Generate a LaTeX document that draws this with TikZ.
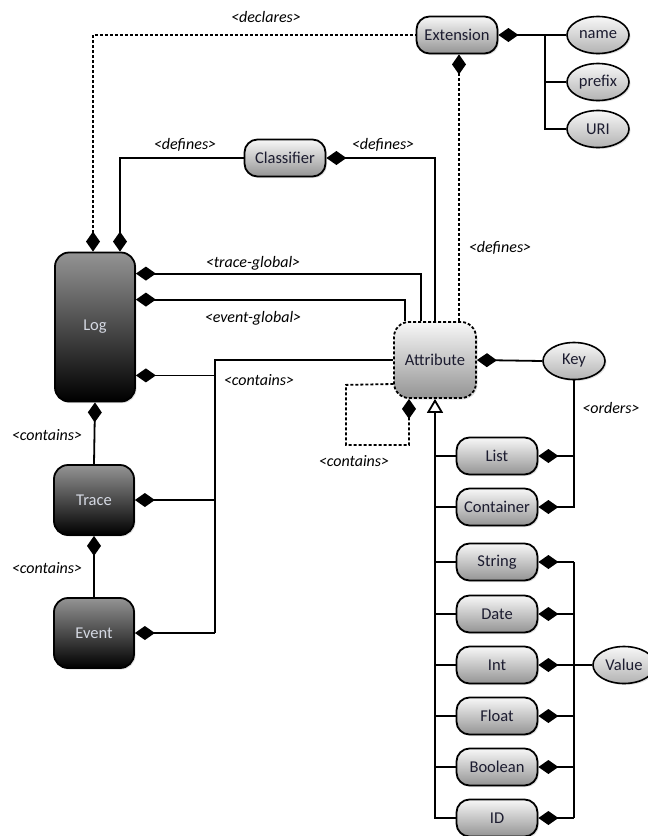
\documentclass[tikz,border=0pt]{standalone}
\usepackage{fontspec}
\setmainfont{Carlito}
\usetikzlibrary{arrows.meta,shapes.geometric,shadows}
\definecolor{lighttext}{RGB}{28,28,48}
\definecolor{darktext}{RGB}{212,216,226}
\begin{document}
\begin{tikzpicture}[x=1pt,y=-1pt,
 every node/.style={font=\fontsize{16.5}{19}\selectfont},
 shd/.style={drop shadow={opacity=0.25, shadow xshift=1.5pt, shadow yshift=-1.5pt}},
 lbox/.style={draw, line width=1.8pt, rounded corners=13pt, top color=black!3, bottom color=black!42, text=lighttext, minimum width=81pt, minimum height=37pt, inner sep=0pt, shd},
 dbox/.style={draw, line width=1.8pt, rounded corners=14pt, top color=black!42, bottom color=black, text=darktext, minimum width=80pt, inner sep=0pt, shd},
 ell/.style={ellipse, draw, line width=1.6pt, top color=black!3, bottom color=black!30, text=lighttext, minimum width=62pt, minimum height=37pt, inner sep=0pt, shd},
 lab/.style={font=\fontsize{16}{19}\selectfont\itshape, inner sep=1pt},
 con/.style={line width=1.8pt},
 dot/.style={con, dash pattern=on 3pt off 2pt},
 dia/.style={{Diamond[length=20pt,width=14pt]}-},
 tri/.style={{Triangle[open,fill=white,length=14pt,width=16pt]}-},
]
\useasboundingbox (0,0) rectangle (648,836);
% nodes
\node[lbox] (ext) at (457,35) {Extension};
\node[ell] (name) at (598,35) {name};
\node[ell] (prefix) at (598,82) {prefix};
\node[ell] (uri) at (598,129) {URI};
\node[lbox] (cls) at (285,158) {Classifier};
\node[dbox, minimum height=149pt] (log) at (95,327) {Log};
\node[dbox, minimum height=70pt] (trace) at (94,500) {Trace};
\node[dbox, minimum height=70pt] (event) at (94,633) {Event};
\node[lbox, dash pattern=on 3pt off 2pt, minimum width=82pt, minimum height=76pt, rounded corners=15pt] (attr) at (435,360) {Attribute};
\node[ell] (key) at (574,361) {Key};
\node[lbox] (list) at (497,456) {List};
\node[lbox] (cont) at (497,507) {Container};
\node[lbox] (str) at (497,562) {String};
\node[lbox] (date) at (497,614) {Date};
\node[lbox] (int) at (497,665) {Int};
\node[lbox] (float) at (497,716) {Float};
\node[lbox] (bool) at (497,767) {Boolean};
\node[lbox] (id) at (497,818) {ID};
\node[ell] (val) at (624,665) {Value};
% labels
\node[lab] (lDecl) at (266,17) {<declares>};
\node[lab] (lDefL) at (185,145) {<defines>};
\node[lab] (lDefR) at (383,145) {<defines>};
\node[lab] (lDefE) at (500,248) {<defines>};
\node[lab] (lTG) at (253,263) {<trace-global>};
\node[lab] (lEG) at (253,318) {<event-global>};
\node[lab] (lCon) at (259,380) {<contains>};
\node[lab] (lSelf) at (354,461) {<contains>};
\node[lab] (lLT) at (47,435) {<contains>};
\node[lab] (lTE) at (47,568) {<contains>};
\node[lab] (lOrd) at (611,408) {<orders>};
% coordinates
\coordinate (j1) at (545,35);
\coordinate (ct) at (215,360);
\coordinate (vx) at (574,0);
\coordinate (lc) at ([yshift=27pt]log.south east);
% Extension connectors
\draw[dot, dia] ([xshift=-2pt]log.north) |- (ext.west);
\draw[dot, dia] ([xshift=2pt]ext.south) -- ([xshift=2pt]ext.south |- attr.north);
\draw[con, dia] (ext.east) -- (j1);
\draw[con] (j1) -- (name.west);
\draw[con] (j1) |- (prefix.west);
\draw[con] (j1) |- (uri.west);
% Classifier
\draw[con, dia] ([xshift=25pt]log.north) |- (cls.west);
\draw[con, dia] (cls.east) -| (attr.north);
% global attributes
\draw[con, dia] ([yshift=-22pt]log.north east) -| ([xshift=-14pt]attr.north);
\draw[con, dia] ([yshift=-48pt]log.north east) -| ([xshift=-30pt]attr.north);
% contains attributes
\draw[con] (attr.west) -- (ct) -- (event.east -| ct);
\draw[con, dia] (lc) -- (lc -| ct);
\draw[con, dia] (trace.east) -- (trace.east -| ct);
\draw[con, dia] (event.east) -- (event.east -| ct);
% log trace event
\draw[con, dia] (log.south) -- (trace.north);
\draw[con, dia] (trace.south) -- (event.north);
% self loop
\draw[dot, dia] ([xshift=-26pt]attr.south) -- ++(0,46) -| ++(-63,-60) -- ([yshift=-24pt]attr.west);
% key
\draw[con, dia] (attr.east) -- (key.west);
\draw[con, dia] (cont.east) -| (key.south);
\draw[con, dia] (list.east) -- (list.east -| key.south);
% inheritance
\draw[con, tri] (attr.south) -- (attr.south |- id.west) -- (id.west);
\foreach \n in {list,cont,str,date,int,float,bool}
  \draw[con] (\n.west) -- (\n.west -| attr.south);
% value
\draw[con] (str.east -| vx) -- (id.east -| vx);
\foreach \n in {str,date,float,bool,id}
  \draw[con, dia] (\n.east) -- (\n.east -| vx);
\draw[con, dia] (int.east) -- (val.west);
\end{tikzpicture}
\end{document}
